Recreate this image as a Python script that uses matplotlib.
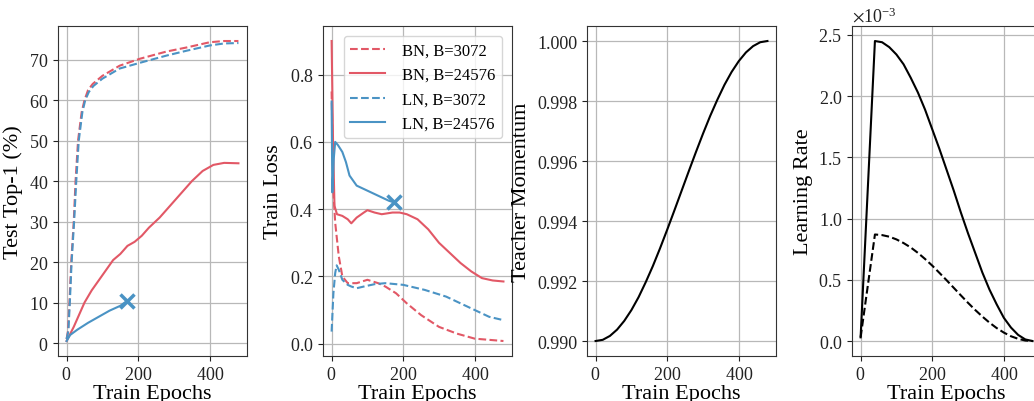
import matplotlib
matplotlib.use("Agg")
import matplotlib.pyplot as plt
import numpy as np

plt.rcParams['font.family'] = 'serif'
plt.rcParams['font.serif'] = ['Liberation Serif', 'DejaVu Serif']
plt.rcParams['mathtext.fontset'] = 'stix'
plt.rcParams['axes.formatter.use_mathtext'] = True

RED = '#e25866'
BLUE = '#4a93c4'

# --- test top-1 (%) ---
acc_bn_small_ep = [0, 4, 8, 13, 20, 25, 32, 42, 50, 60, 73, 100, 148, 204, 279, 335, 400, 440, 480]
acc_bn_small = [1, 3, 10, 20, 30, 40, 50, 57, 60, 62.5, 64, 66, 68.5, 70.2, 72, 73, 74.3, 74.6, 74.6]
acc_ln_small_ep = [0, 5, 9, 14, 21, 27, 34, 44, 52, 62, 75, 100, 148, 204, 279, 335, 400, 440, 480]
acc_ln_small = [1, 3, 10, 20, 30, 40, 50, 57, 60, 62, 63.5, 65.3, 67.8, 69.2, 71, 72.2, 73.5, 74, 74.1]
acc_bn_large_ep = [0, 20, 40, 50, 70, 90, 110, 130, 150, 170, 190, 210, 230, 260, 290, 320, 350, 380, 410, 440, 480]
acc_bn_large = [0.5, 4, 8, 10, 13, 15.5, 18, 20.5, 22, 24, 25, 26.5, 28.5, 31, 34, 37, 40, 42.5, 44, 44.5, 44.4]
acc_ln_large_ep = [0, 10, 30, 60, 90, 120, 150, 170]
acc_ln_large = [0.5, 2, 3.3, 5, 6.5, 8, 9.2, 10.5]

# --- train loss ---
loss_bn_small_ep = [0, 5, 10, 20, 30, 45, 70, 100, 130, 150, 180, 210, 250, 300, 350, 400, 480]
loss_bn_small = [0.75, 0.45, 0.36, 0.26, 0.2, 0.18, 0.18, 0.19, 0.18, 0.17, 0.15, 0.12, 0.085, 0.05, 0.03, 0.015, 0.008]
loss_bn_large_ep = [0, 4, 8, 15, 30, 45, 55, 70, 90, 100, 120, 140, 170, 190, 210, 240, 270, 300, 330, 360, 390, 420, 450, 480]
loss_bn_large = [0.9, 0.6, 0.41, 0.385, 0.38, 0.37, 0.358, 0.375, 0.39, 0.397, 0.39, 0.385, 0.39, 0.39,
                 0.385, 0.37, 0.34, 0.3, 0.27, 0.24, 0.215, 0.195, 0.188, 0.185]
loss_ln_small_ep = [0, 5, 10, 14, 20, 30, 45, 55, 70, 90, 120, 150, 200, 260, 320, 360, 400, 440, 480]
loss_ln_small = [0.036, 0.15, 0.21, 0.233, 0.22, 0.19, 0.175, 0.17, 0.165, 0.17, 0.177, 0.18, 0.175, 0.16, 0.14,
                 0.12, 0.1, 0.08, 0.07]
loss_ln_large_ep = [0, 2, 6, 10, 18, 30, 40, 50, 70, 100, 130, 160, 175]
loss_ln_large = [0.72, 0.45, 0.55, 0.6, 0.59, 0.57, 0.54, 0.5, 0.47, 0.455, 0.44, 0.425, 0.42]

# --- teacher momentum ---
mom_ep = [0, 20, 40, 60, 80, 100, 120, 140, 160, 180, 200, 220, 240, 260, 280, 300, 320, 340, 360, 380,
          400, 420, 440, 460, 480]
momentum = [0.99000, 0.99004, 0.99017, 0.99038, 0.99067, 0.99103, 0.99146, 0.99196, 0.99250, 0.99309,
            0.99371, 0.99435, 0.99500, 0.99565, 0.99629, 0.99691, 0.99750, 0.99804, 0.99854, 0.99897,
            0.99933, 0.99962, 0.99983, 0.99996, 1.00000]

# --- learning rate (x1e-3) ---
lr_ep = [0, 40, 60, 80, 100, 120, 140, 160, 180, 200, 220, 240, 260, 280, 300, 320, 340, 360, 380,
         400, 420, 440, 460, 480]
lr_large = [0.03, 2.45, 2.44, 2.40, 2.34, 2.26, 2.15, 2.03, 1.89, 1.73, 1.57, 1.40, 1.23, 1.05, 0.88,
            0.72, 0.56, 0.42, 0.30, 0.19, 0.11, 0.05, 0.013, 0.0]
lr_small = [0.03, 0.87, 0.865, 0.852, 0.83, 0.80, 0.764, 0.72, 0.67, 0.616, 0.557, 0.497, 0.435, 0.373,
            0.312, 0.254, 0.2, 0.15, 0.106, 0.069, 0.039, 0.018, 0.004, 0.0]

fig = plt.figure(figsize=(10.34, 4.02), dpi=100)
lefts = [0.0561, 0.3124, 0.5677, 0.8240]
axes = [fig.add_axes([l, 0.1119, 0.1828, 0.8209]) for l in lefts]

for ax in axes:
    ax.grid(True, color='#b8b8b8', linewidth=0.9)
    ax.set_axisbelow(True)
    for s in ax.spines.values():
        s.set_color('#333333')
    ax.tick_params(labelsize=13, colors='#222222')
    ax.set_xlabel('Train Epochs', fontsize=16, labelpad=1)
    ax.set_xticks([0, 200, 400])

lw = 1.5
ax = axes[0]
ax.plot(acc_bn_small_ep, acc_bn_small, '--', color=RED, lw=lw)
ax.plot(acc_bn_large_ep, acc_bn_large, '-', color=RED, lw=lw)
ax.plot(acc_ln_small_ep, acc_ln_small, '--', color=BLUE, lw=lw)
ax.plot(acc_ln_large_ep, acc_ln_large, '-', color=BLUE, lw=lw)
ax.plot(acc_ln_large_ep[-1], acc_ln_large[-1], 'x', color=BLUE, ms=10, mew=2.5)
ax.set_ylabel('Test Top-1 (%)', fontsize=16)

ax = axes[1]
ax.plot(loss_bn_small_ep, loss_bn_small, '--', color=RED, lw=lw, label='BN, B=3072')
ax.plot(loss_bn_large_ep, loss_bn_large, '-', color=RED, lw=lw, label='BN, B=24576')
ax.plot(loss_ln_small_ep, loss_ln_small, '--', color=BLUE, lw=lw, label='LN, B=3072')
ax.plot(loss_ln_large_ep, loss_ln_large, '-', color=BLUE, lw=lw, label='LN, B=24576')
ax.plot(loss_ln_large_ep[-1], loss_ln_large[-1], 'x', color=BLUE, ms=10, mew=2.5)
ax.set_ylabel('Train Loss', fontsize=16)
ax.legend(loc='upper right', fontsize=12, handlelength=2.1, handletextpad=1.0,
          borderaxespad=0.6)

ax = axes[2]
ax.plot(mom_ep, momentum, '-', color='black', lw=lw)
ax.set_yticks([0.990, 0.992, 0.994, 0.996, 0.998, 1.000])
ax.set_yticklabels(['0.990', '0.992', '0.994', '0.996', '0.998', '1.000'])
ax.set_ylabel('Teacher Momentum', fontsize=16)

ax = axes[3]
ax.plot(lr_ep, np.array(lr_large) * 1e-3, '-', color='black', lw=lw)
ax.plot(lr_ep, np.array(lr_small) * 1e-3, '--', color='black', lw=lw)
ax.ticklabel_format(axis='y', style='sci', scilimits=(0, 0), useMathText=True)
ax.set_ylabel('Learning Rate', fontsize=16)
ax.yaxis.get_offset_text().set_fontsize(13)

fig.savefig('out.png', dpi=100)
